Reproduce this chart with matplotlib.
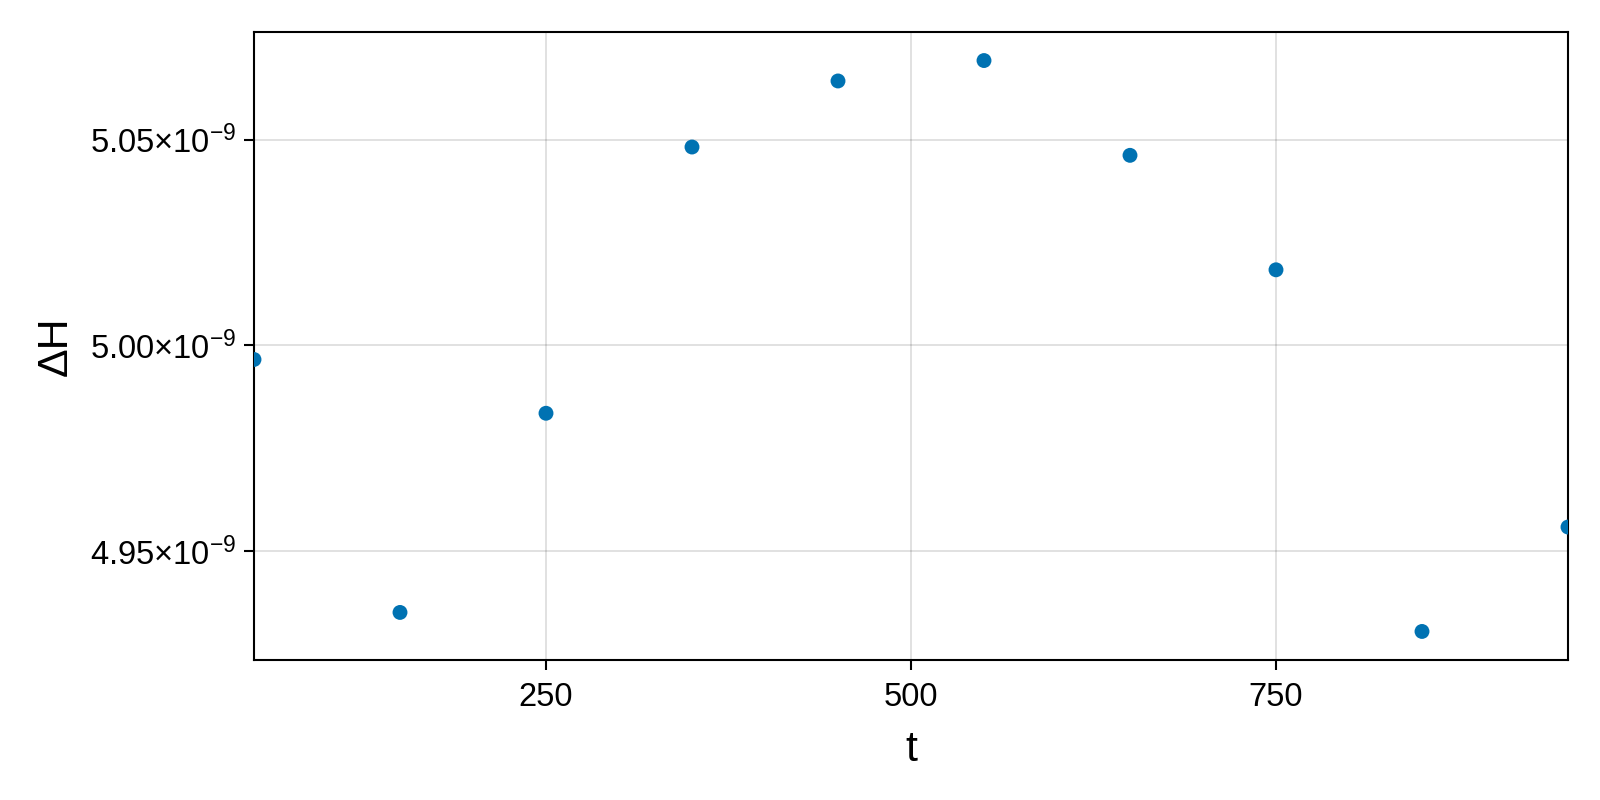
import matplotlib
matplotlib.use("Agg")
import matplotlib.pyplot as plt

t = [50, 150, 250, 350, 450, 550, 650, 750, 850, 950]
dH = [4.9966e-9, 4.93517e-9, 4.98354e-9, 5.0482e-9, 5.06424e-9,
      5.0692e-9, 5.04618e-9, 5.01838e-9, 4.93055e-9, 4.95591e-9]
xticks = [250, 500, 750]
yticks = [4.95e-9, 5.00e-9, 5.05e-9]
ytick_labels = [r"$4.95{\times}10^{-9}$", r"$5.00{\times}10^{-9}$", r"$5.05{\times}10^{-9}$"]

plt.rcParams['font.family'] = ['Liberation Sans', 'DejaVu Sans']
plt.rcParams['mathtext.fontset'] = 'custom'
plt.rcParams['mathtext.rm'] = 'Liberation Sans'
plt.rcParams['mathtext.it'] = 'Liberation Sans'
plt.rcParams['mathtext.bf'] = 'Liberation Sans:bold'

W, H = 1600, 800
fig = plt.figure(figsize=(16, 8), dpi=100)
left, right, top, bottom = 254, 1568, 32, 660
ax = fig.add_axes([left / W, 1 - bottom / H, (right - left) / W, (bottom - top) / H])

ax.scatter(t, dH, s=115, color='#0072B2', edgecolors='none', zorder=3)

ax.set_xlim(min(t), max(t))
ax.margins(y=0.05)
ax.set_xticks(xticks)
ax.set_xticklabels([str(v) for v in xticks])
ax.set_yticks(yticks)
ax.set_yticklabels(ytick_labels)

ax.grid(True, color='black', alpha=0.12, linewidth=1.4)
ax.set_axisbelow(True)
for s in ax.spines.values():
    s.set_linewidth(1.5)
ax.tick_params(axis='both', direction='out', length=7, width=1.5,
               labelsize=23.5, pad=6)
ax.tick_params(axis='x', pad=9)

ax.set_xlabel('t', fontsize=31, labelpad=12)
ax.set_ylabel('ΔH', fontsize=31, labelpad=10)

fig.savefig('out.png', dpi=100)
